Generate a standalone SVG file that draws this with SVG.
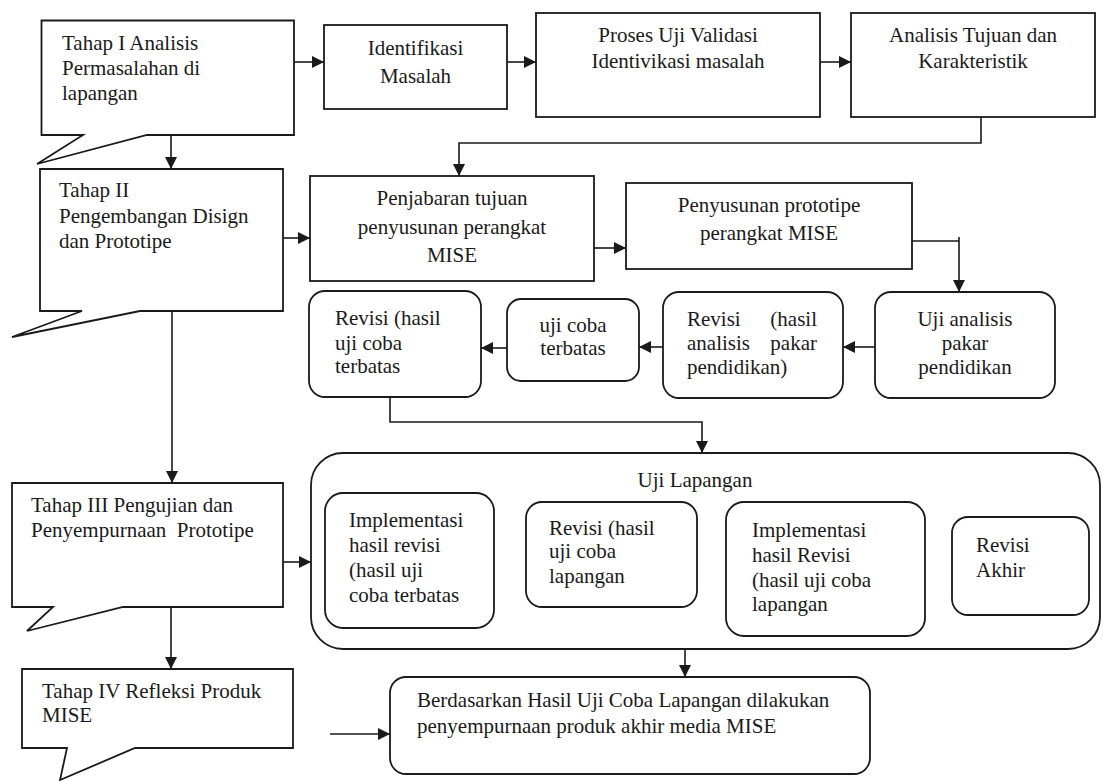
<svg xmlns="http://www.w3.org/2000/svg" width="1103" height="781" viewBox="0 0 1103 781" font-family="'Liberation Serif', 'DejaVu Serif', serif" font-size="21">
<style>
.b{fill:#fff;stroke:#1a1a1a;stroke-width:1.8}
.c{fill:none;stroke:#1a1a1a;stroke-width:1.6}
text{font-family:'Liberation Serif','DejaVu Serif',serif;font-size:21px;fill:#1a1a1a}
.m{text-anchor:middle}
.e{text-anchor:end}
</style>
<defs>
<marker id="ah" markerUnits="userSpaceOnUse" markerWidth="13" markerHeight="13" refX="12" refY="6" orient="auto">
<path d="M0,0 L12,6 L0,12 z" fill="#1a1a1a"/>
</marker>
</defs>
<rect width="1103" height="781" fill="#fff"/>

<g id="connectors">
<path class="c" d="M294,62 H324" marker-end="url(#ah)"/>
<path class="c" d="M507,62 H536" marker-end="url(#ah)"/>
<path class="c" d="M820,62 H851" marker-end="url(#ah)"/>
<path class="c" d="M171,135 V169" marker-end="url(#ah)"/>
<path class="c" d="M981,117 V143 H459 V176" marker-end="url(#ah)"/>
<path class="c" d="M283,238 H310" marker-end="url(#ah)"/>
<path class="c" d="M594,248 H626" marker-end="url(#ah)"/>
<path class="c" d="M912,241 H959 M959,237 V292" marker-end="url(#ah)"/>
<path class="c" d="M875,347 H843" marker-end="url(#ah)"/>
<path class="c" d="M663,347 H639" marker-end="url(#ah)"/>
<path class="c" d="M507,348 H481" marker-end="url(#ah)"/>
<path class="c" d="M390,397 V422 H702 V453" marker-end="url(#ah)"/>
<path class="c" d="M172,311 V483" marker-end="url(#ah)"/>
<path class="c" d="M283,562 H311" marker-end="url(#ah)"/>
<path class="c" d="M494,560 H526" marker-end="url(#ah)"/>
<path class="c" d="M697,561 H726" marker-end="url(#ah)"/>
<path class="c" d="M925,574 H952" marker-end="url(#ah)"/>
<path class="c" d="M171,607 V669" marker-end="url(#ah)"/>
<path class="c" d="M685,649 V677" marker-end="url(#ah)"/>
<path class="c" d="M330,734 H390" marker-end="url(#ah)"/>
</g>

<g id="tahap1">
<path class="b" d="M41.5,20.5 H294 V135 H147 L37,164 L83,135 H41.5 Z"/>
<text x="62" y="50">Tahap I Analisis</text>
<text x="62" y="75">Permasalahan di</text>
<text x="62" y="100">lapangan</text>
</g>

<g id="identifikasi">
<rect class="b" x="324" y="25" width="183" height="84"/>
<text class="m" x="415.5" y="55">Identifikasi</text>
<text class="m" x="415.5" y="83">Masalah</text>
</g>

<g id="proses-uji">
<rect class="b" x="536" y="13" width="284" height="104"/>
<text class="m" x="678" y="42">Proses Uji Validasi</text>
<text class="m" x="678" y="68">Identivikasi masalah</text>
</g>

<g id="analisis-tujuan">
<rect class="b" x="851" y="13" width="244" height="104"/>
<text class="m" x="973" y="42">Analisis Tujuan dan</text>
<text class="m" x="973" y="68">Karakteristik</text>
</g>

<g id="tahap2">
<path class="b" d="M40,169 H283 V311 H140 L12,337 L82,311 H40 Z"/>
<text x="59" y="197">Tahap II</text>
<text x="59" y="223">Pengembangan Disign</text>
<text x="59" y="248">dan Prototipe</text>
</g>

<g id="penjabaran">
<rect class="b" x="310" y="176" width="284" height="105"/>
<text class="m" x="452" y="205">Penjabaran tujuan</text>
<text class="m" x="452" y="234">penyusunan perangkat</text>
<text class="m" x="452" y="262">MISE</text>
</g>

<g id="penyusunan">
<rect class="b" x="626" y="183" width="286" height="86"/>
<text class="m" x="769" y="212">Penyusunan prototipe</text>
<text class="m" x="769" y="240">perangkat MISE</text>
</g>

<g id="uji-analisis">
<rect class="b" x="875" y="292" width="180" height="106" rx="16"/>
<text class="m" x="965" y="326">Uji analisis</text>
<text class="m" x="965" y="350">pakar</text>
<text class="m" x="965" y="374">pendidikan</text>
</g>

<g id="revisi-analisis">
<rect class="b" x="663" y="292" width="180" height="106" rx="16"/>
<text x="687" y="326">Revisi</text>
<text class="e" x="817" y="326">(hasil</text>
<text x="687" y="350">analisis</text>
<text class="e" x="817" y="350">pakar</text>
<text x="687" y="374">pendidikan)</text>
</g>

<g id="uji-coba-terbatas">
<rect class="b" x="507" y="299" width="132" height="82" rx="14"/>
<text class="m" x="573" y="332">uji coba</text>
<text class="m" x="573" y="355">terbatas</text>
</g>

<g id="revisi-terbatas">
<rect class="b" x="309" y="291" width="172" height="106" rx="16"/>
<text x="335" y="325">Revisi (hasil</text>
<text x="335" y="350">uji coba</text>
<text x="335" y="373">terbatas</text>
</g>

<g id="tahap3">
<path class="b" d="M12,483 H283 V607 H123 L27,631 L53,607 H12 Z"/>
<text x="31" y="512">Tahap III Pengujian dan</text>
<text x="31" y="537" xml:space="preserve">Penyempurnaan  Prototipe</text>
</g>

<g id="uji-lapangan">
<rect class="b" x="311" y="453" width="789" height="196" rx="32"/>
<text class="m" x="695" y="487">Uji Lapangan</text>
</g>

<g id="implementasi1">
<rect class="b" x="325" y="493" width="169" height="135" rx="18"/>
<text x="349" y="527">Implementasi</text>
<text x="349" y="552">hasil revisi</text>
<text x="349" y="577">(hasil uji</text>
<text x="349" y="602">coba terbatas</text>
</g>

<g id="revisi-lapangan">
<rect class="b" x="526" y="502" width="171" height="105" rx="16"/>
<text x="549" y="535">Revisi (hasil</text>
<text x="549" y="558">uji coba</text>
<text x="549" y="583">lapangan</text>
</g>

<g id="implementasi2">
<rect class="b" x="726" y="502" width="199" height="134" rx="18"/>
<text x="752" y="537">Implementasi</text>
<text x="752" y="562">hasil Revisi</text>
<text x="752" y="587">(hasil uji coba</text>
<text x="752" y="611">lapangan</text>
</g>

<g id="revisi-akhir">
<rect class="b" x="952" y="517" width="137" height="98" rx="16"/>
<text x="976" y="552">Revisi</text>
<text x="976" y="577">Akhir</text>
</g>

<g id="tahap4">
<path class="b" d="M22,669 H293 V748 H135 L60,780 L67,748 H22 Z"/>
<text x="42" y="698">Tahap IV Refleksi Produk</text>
<text x="42" y="722">MISE</text>
</g>

<g id="berdasarkan">
<rect class="b" x="390" y="677" width="480" height="97" rx="16"/>
<text x="417" y="707">Berdasarkan Hasil Uji Coba Lapangan dilakukan</text>
<text x="417" y="733">penyempurnaan produk akhir media MISE</text>
</g>
</svg>
